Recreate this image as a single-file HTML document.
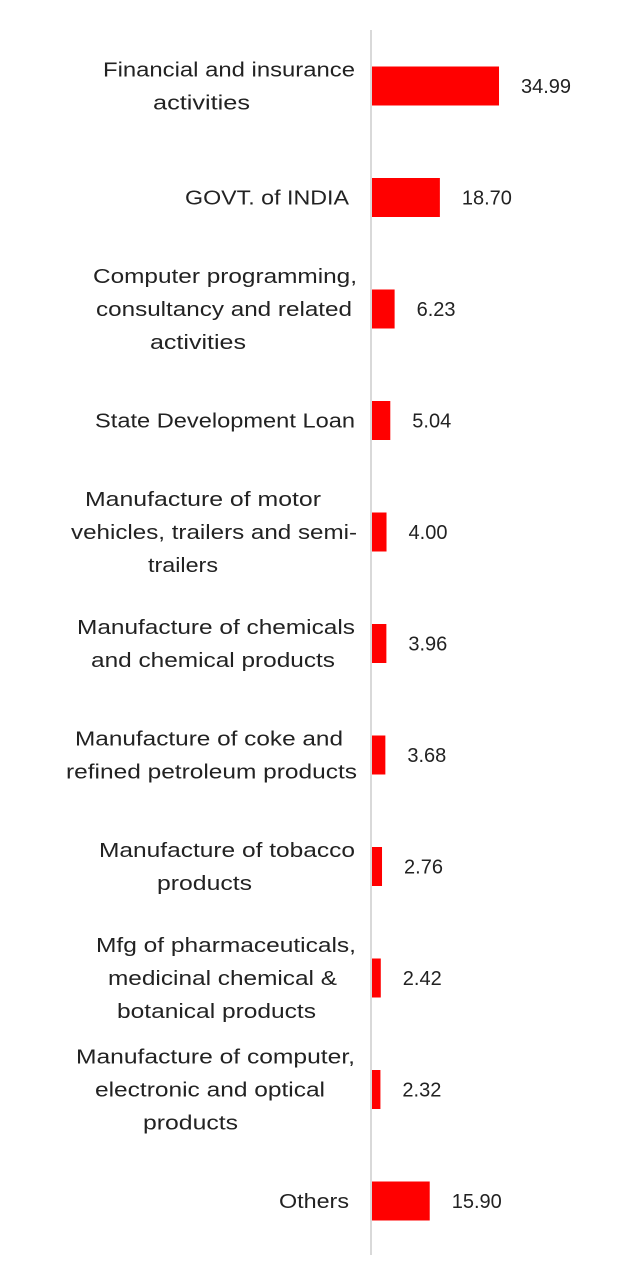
<!DOCTYPE html>
<html><head><meta charset="utf-8">
<style>
html,body{margin:0;padding:0;background:#fff;}
svg{display:block;}
text{font-family:"Liberation Sans",sans-serif;font-size:20px;fill:#222;}
</style></head>
<body>
<svg id="chart" width="635" height="1283" viewBox="0 0 635 1283" xmlns="http://www.w3.org/2000/svg">
<line x1="371" y1="30" x2="371" y2="1255" stroke="#d9d9d9" stroke-width="2"/>
</svg>
<script>
const categories = [
  ["Financial and insurance","activities"],
  ["GOVT. of INDIA"],
  ["Computer programming,","consultancy and related","activities"],
  ["State Development Loan"],
  ["Manufacture of motor","vehicles, trailers and semi-","trailers"],
  ["Manufacture of chemicals","and chemical products"],
  ["Manufacture of coke and","refined petroleum products"],
  ["Manufacture of tobacco","products"],
  ["Mfg of pharmaceuticals,","medicinal chemical &","botanical products"],
  ["Manufacture of computer,","electronic and optical","products"],
  ["Others"]
];
const values = [34.99, 18.70, 6.23, 5.04, 4.00, 3.96, 3.68, 2.76, 2.42, 2.32, 15.90];
const valueLabels = ["34.99","18.70","6.23","5.04","4.00","3.96","3.68","2.76","2.42","2.32","15.90"];

// layout (not data)
const lineExtents = [
  [[103,355],[153,250]],
  [[185,349]],
  [[93,357],[96,352],[150,246]],
  [[95,355]],
  [[85,321],[71,357],[148,218]],
  [[77,355],[91,335]],
  [[75,343],[66,357]],
  [[99,355],[157,252]],
  [[96,356],[108,337],[117,316]],
  [[76,355],[95,325],[143,238]],
  [[279,349]]
];
const svg = document.getElementById('chart');
const NS = 'http://www.w3.org/2000/svg';
const x0 = 372, pxPerUnit = 3.63;
const xScale = v => x0 + v * pxPerUnit;
const yCenter = i => 86 + i * 111.5;
const barH = 39, lineH = 33;

categories.forEach((lines, i) => {
  const cy = yCenter(i);
  const bar = document.createElementNS(NS, 'rect');
  
  
  bar.setAttribute('x', x0);
  bar.setAttribute('y', cy - barH / 2);
  bar.setAttribute('width', xScale(values[i]) - x0);
  bar.setAttribute('height', barH);
  bar.setAttribute('fill', '#ff0000');
  svg.appendChild(bar);

  const vl = document.createElementNS(NS, 'text');
  
  
  vl.setAttribute('x', xScale(values[i]) + 22);
  vl.setAttribute('y', cy + 7);
  vl.textContent = valueLabels[i];
  svg.appendChild(vl);

  const n = lines.length;
  lines.forEach((ln, j) => {
    const t = document.createElementNS(NS, 'text');
    
    
    const ext = lineExtents[i][j];
    t.setAttribute('x', ext[0]);
    t.setAttribute('y', cy + (j - (n - 1) / 2) * lineH + 7);
    t.setAttribute('textLength', ext[1] - ext[0]);
    t.setAttribute('lengthAdjust', 'spacingAndGlyphs');
    t.textContent = ln;
    svg.appendChild(t);
  });
});
</script>
</body></html>
